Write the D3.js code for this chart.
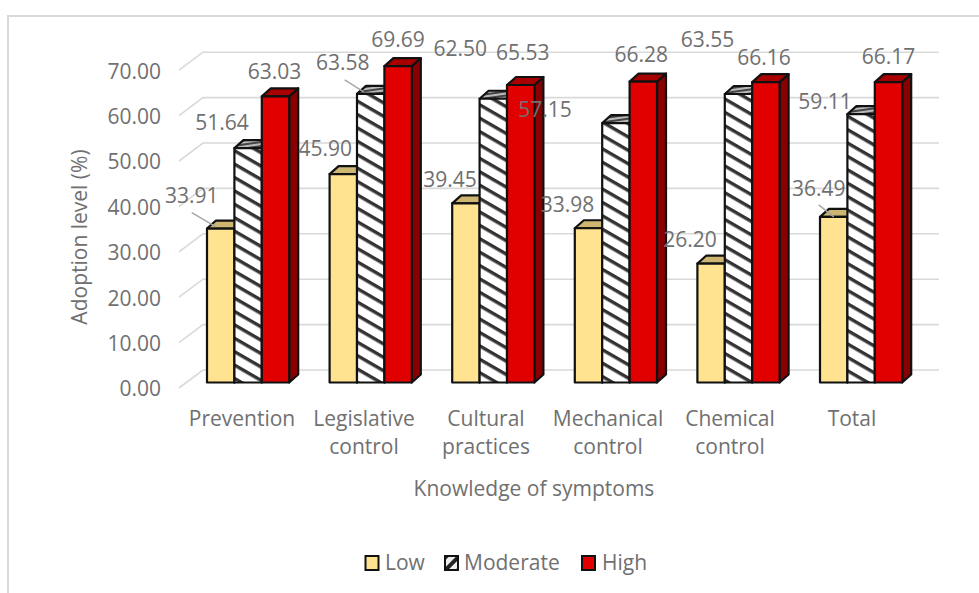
<!DOCTYPE html>
<html>
<head>
<meta charset="utf-8">
<script src="https://cdn.jsdelivr.net/npm/d3@7"></script>
<style>
  html, body { margin: 0; padding: 0; background: #fff; }
  text { font-family: "Open Sans", sans-serif; }
</style>
</head>
<body>
<svg id="chart" width="979" height="593"></svg>
<script>
const categories = [['Prevention'], ['Legislative', 'control'], ['Cultural', 'practices'], ['Mechanical', 'control'], ['Chemical', 'control'], ['Total']];
const seriesNames = ['Low', 'Moderate', 'High'];
const low = [33.91, 45.90, 39.45, 33.98, 26.20, 36.49];
const moderate = [51.64, 63.58, 62.50, 57.15, 63.55, 59.11];
const high = [63.03, 69.69, 65.53, 66.28, 66.16, 66.17];
const yTicks = [0, 10, 20, 30, 40, 50, 60, 70];

const values = [low, moderate, high];
const textColor = '#707070';
const gridColor = '#d9d9d9';
const fontSize = 21;
const faces = [
    { front: '#ffe391', top: '#cdb672', side: '#a8955a', swatch: '#ffe391' },
    { front: 'url(#hatch)', top: 'url(#hatchTop)', side: '#777', swatch: 'url(#hatchKey)' },
    { front: '#e00000', top: '#a80000', side: '#8a0000', swatch: '#e00000' }
];

const svg = d3.select('#chart');

// wide diagonal stripes for the moderate bars
const defs = svg.append('defs');
function stripes(id, size, band, angle, bg, fg) {
    const p = defs.append('pattern').attr('id', id).attr('patternUnits', 'userSpaceOnUse')
        .attr('width', size).attr('height', size).attr('patternTransform', `rotate(${angle})`);
    p.append('rect').attr('width', size).attr('height', size).attr('fill', bg);
    p.append('rect').attr('width', size).attr('height', band).attr('fill', fg);
}
stripes('hatch', 11.6, 3.4, 30, '#fff', '#333');
stripes('hatchTop', 4, 2, -8, '#bbb', '#444');
stripes('hatchKey', 9, 5, -45, '#222', '#eee');

// outer chart frame, open on the right and at the bottom
svg.append('path').attr('d', 'M8,593V16H979').attr('fill', 'none').attr('stroke', gridColor).attr('stroke-width', 2);

const y = d3.scaleLinear().domain([0, 70]).range([382.5, 64.7]);
const x0 = d3.scaleBand().domain(d3.range(categories.length)).range([207, 942.6]);
const x1 = d3.scaleBand().domain(d3.range(seriesNames.length)).range([0, 82.2]);
const xLabel = d3.scaleLinear().domain([0, 5]).range([242, 852]);
const depthX = 9, depthY = 8;

// back wall gridlines and the slanted part on the left wall
const grid = svg.append('g');
yTicks.forEach(t => {
    const wall = y(t) - 12.5;
    grid.append('path')
        .attr('d', `M179,${wall + 18}L203,${wall}H939`)
        .attr('fill', 'none').attr('stroke', gridColor).attr('stroke-width', 1.6);
});

svg.append('g').selectAll('text').data(yTicks).enter().append('text')
    .attr('x', 161).attr('y', d => y(d) + 6.5)
    .attr('dy', '0.35em').attr('text-anchor', 'end')
    .attr('font-size', fontSize).attr('fill', textColor)
    .text(d => d3.format('.2f')(d));

// 3d bars
const bars = svg.append('g').attr('stroke', '#111').attr('stroke-width', 2.2).attr('stroke-linejoin', 'round');
categories.forEach((c, i) => {
    seriesNames.forEach((s, j) => {
        const v = values[j][i];
        const l = x0(i) + x1(j), r = l + x1.bandwidth(), t = y(v), b = y(0);
        bars.append('path')
            .attr('d', `M${r},${t}L${r + depthX},${t - depthY}V${b - depthY}L${r},${b}Z`)
            .attr('fill', faces[j].side);
        bars.append('path')
            .attr('d', `M${l},${t}L${l + depthX},${t - depthY}H${r + depthX}L${r},${t}Z`)
            .attr('fill', faces[j].top);
        bars.append('rect')
            .attr('x', l).attr('y', t).attr('width', r - l).attr('height', b - t)
            .attr('fill', faces[j].front);
    });
});

// label shifts from the top centre of each bar
const labelShift = [
    [[-29, -33], [-26, -25], [-1, -25]],
    [[-18, -25], [-28, -31], [0, -26]],
    [[-16, -24], [-33, -50], [2, -32]],
    [[-21, -24], [-71, -13], [-2, -27]],
    [[-21, -24], [-31, -54], [-2, -24]],
    [[-15, -28], [-36, -12], [0, -25]]
];
const labels = svg.append('g');
categories.forEach((c, i) => {
    seriesNames.forEach((s, j) => {
        const v = values[j][i];
        labels.append('text')
            .attr('x', x0(i) + x1(j) + x1.bandwidth() / 2 + labelShift[i][j][0])
            .attr('y', y(v) + labelShift[i][j][1])
            .attr('dy', '0.35em').attr('text-anchor', 'middle')
            .attr('font-size', fontSize).attr('fill', textColor)
            .text(d3.format('.2f')(v));
    });
});

// leader lines for the labels that sit away from their bars
[[0, 0, -29, -16, -5, -2], [1, 1, -26, -14, -7, -2], [5, 0, -15, -12, 0, 0]].forEach(([i, j, ax, ay, bx, by]) => {
    const cx = x0(i) + x1(j) + x1.bandwidth() / 2, t = y(values[j][i]);
    labels.append('line')
        .attr('x1', cx + ax).attr('y1', t + ay).attr('x2', cx + bx).attr('y2', t + by)
        .attr('stroke', '#a6a6a6').attr('stroke-width', 1.4);
});

// category labels
const cats = svg.append('g');
categories.forEach((c, i) => {
    const t = cats.append('text')
        .attr('y', 426).attr('text-anchor', 'middle')
        .attr('font-size', fontSize).attr('fill', textColor);
    c.forEach((line, k) => t.append('tspan')
        .attr('x', xLabel(i)).attr('dy', k ? 28 : 0).text(line));
});

svg.append('text').attr('x', 534).attr('y', 496).attr('text-anchor', 'middle')
    .attr('font-size', fontSize).attr('fill', textColor).text('Knowledge of symptoms');
svg.append('text').attr('transform', 'translate(87,237) rotate(-90)').attr('text-anchor', 'middle')
    .attr('font-size', fontSize).attr('fill', textColor).text('Adoption level (%)');

// legend
const legendX = [365.5, 445, 582];
const legendText = [385, 464, 602];
const legend = svg.append('g');
seriesNames.forEach((s, j) => {
    legend.append('rect').attr('x', legendX[j]).attr('y', 556).attr('width', 13).attr('height', 14)
        .attr('fill', faces[j].swatch).attr('stroke', '#111').attr('stroke-width', 2);
    legend.append('text').attr('x', legendText[j]).attr('y', 570)
        .attr('font-size', fontSize).attr('fill', textColor).text(s);
});
</script>
</body>
</html>
